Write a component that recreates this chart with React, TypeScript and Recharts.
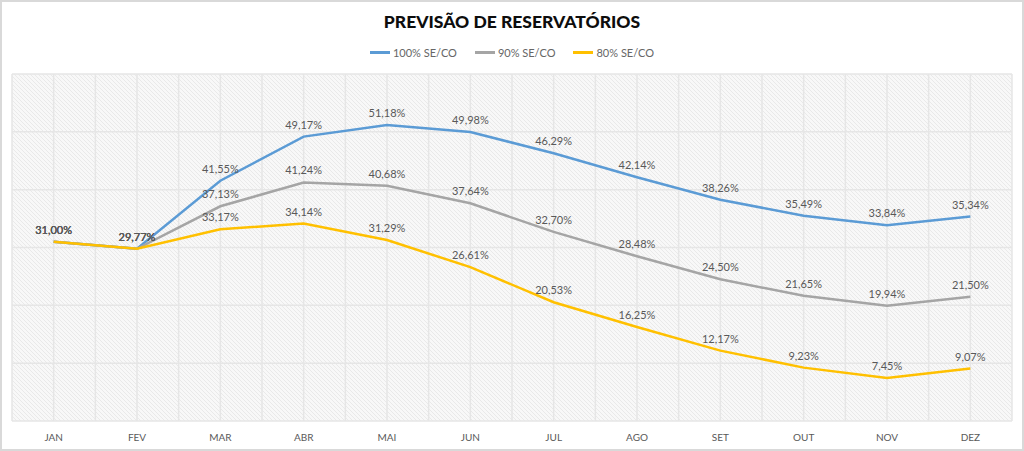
import React from 'react';
import { LineChart, Line, XAxis, YAxis, CartesianGrid, Legend, LabelList } from 'recharts';

const months = ['JAN', 'FEV', 'MAR', 'ABR', 'MAI', 'JUN', 'JUL', 'AGO', 'SET', 'OUT', 'NOV', 'DEZ'];
const se100 = [31.0, 29.77, 41.55, 49.17, 51.18, 49.98, 46.29, 42.14, 38.26, 35.49, 33.84, 35.34];
const se90 = [31.0, 29.77, 37.13, 41.24, 40.68, 37.64, 32.7, 28.48, 24.5, 21.65, 19.94, 21.5];
const se80 = [31.0, 29.77, 33.17, 34.14, 31.29, 26.61, 20.53, 16.25, 12.17, 9.23, 7.45, 9.07];
const yTicks = [0, 10, 20, 30, 40, 50, 60];

const series = [
  { key: 'se100', name: '100% SE/CO', color: '#5b9bd5' },
  { key: 'se90', name: '90% SE/CO', color: '#a5a5a5' },
  { key: 'se80', name: '80% SE/CO', color: '#ffc000' },
];

const data = months.map((m, i) => ({ month: m, se100: se100[i], se90: se90[i], se80: se80[i] }));

const FONT = 'Lato, "Open Sans", sans-serif';
const fmt = (v: number) => v.toFixed(2).replace('.', ',') + '%';

const W = 1024;
const H = 451;
const SIDE = 12;
// half a category on each side, so points sit in the middle of each band
const halfBand = (W - SIDE * 2) / (months.length * 2);

function LegendContent() {
  return (
    <div style={{ display: 'flex', justifyContent: 'center', height: 16, alignItems: 'center', fontFamily: FONT, fontSize: 11, color: '#666' }}>
      {series.map((s) => (
        <div key={s.key} style={{ display: 'flex', alignItems: 'center', margin: '0 9px' }}>
          <span style={{ display: 'inline-block', width: 20, height: 3, background: s.color, marginRight: 3 }} />
          <span>{s.name}</span>
        </div>
      ))}
    </div>
  );
}

export default function App() {
  return (
    <div style={{ position: 'absolute', left: 0, top: 0, width: W, height: H, background: '#fff' }}>
      <div style={{ position: 'absolute', top: 11, left: 0, width: W, textAlign: 'center', fontFamily: FONT, fontWeight: 900, fontSize: 17.5, color: '#0d0d0d' }}>
        PREVISÃO DE RESERVATÓRIOS
      </div>
      <LineChart width={W} height={H} data={data} margin={{ top: 58, right: SIDE, left: SIDE, bottom: 0 }}>
        <defs>
          <pattern id="hatch" patternUnits="userSpaceOnUse" width="4" height="4">
            <rect width="4" height="4" fill="#f8f8f8" />
            <path d="M-1,3 l2,2 M0,0 l4,4 M3,-1 l2,2" stroke="#e9e9e9" strokeWidth="1" />
          </pattern>
        </defs>
        <CartesianGrid
          fill="url(#hatch)"
          stroke="#e6e6e6"
          strokeWidth={1.5}
          verticalCoordinatesGenerator={({ offset }: any) =>
            Array.from({ length: months.length * 2 + 1 }, (_, i) => offset.left + (i * offset.width) / (months.length * 2))
          }
        />
        <XAxis
          dataKey="month"
          axisLine={false}
          tickLine={false}
          height={30}
          tickMargin={7}
          padding={{ left: halfBand, right: halfBand }}
          tick={{ fill: '#595959', fontSize: 10, fontFamily: FONT }}
          interval={0}
        />
        <YAxis hide domain={[0, 60]} ticks={yTicks} />
        <Legend verticalAlign="top" content={<LegendContent />} wrapperStyle={{ top: 44, left: 0, width: W }} />
        {series.map((s) => (
          <Line
            key={s.key}
            type="linear"
            dataKey={s.key}
            name={s.name}
            stroke={s.color}
            strokeWidth={2.5}
            dot={false}
            activeDot={false}
            isAnimationActive={false}
          >
            <LabelList dataKey={s.key} position="top" offset={8} formatter={(v: any) => fmt(Number(v))} style={{ fill: '#595959', fontSize: 11, fontFamily: FONT }} />
          </Line>
        ))}
      </LineChart>
      <div style={{ position: 'absolute', inset: 0, border: '2px solid #d9d9d9', pointerEvents: 'none' }} />
    </div>
  );
}
